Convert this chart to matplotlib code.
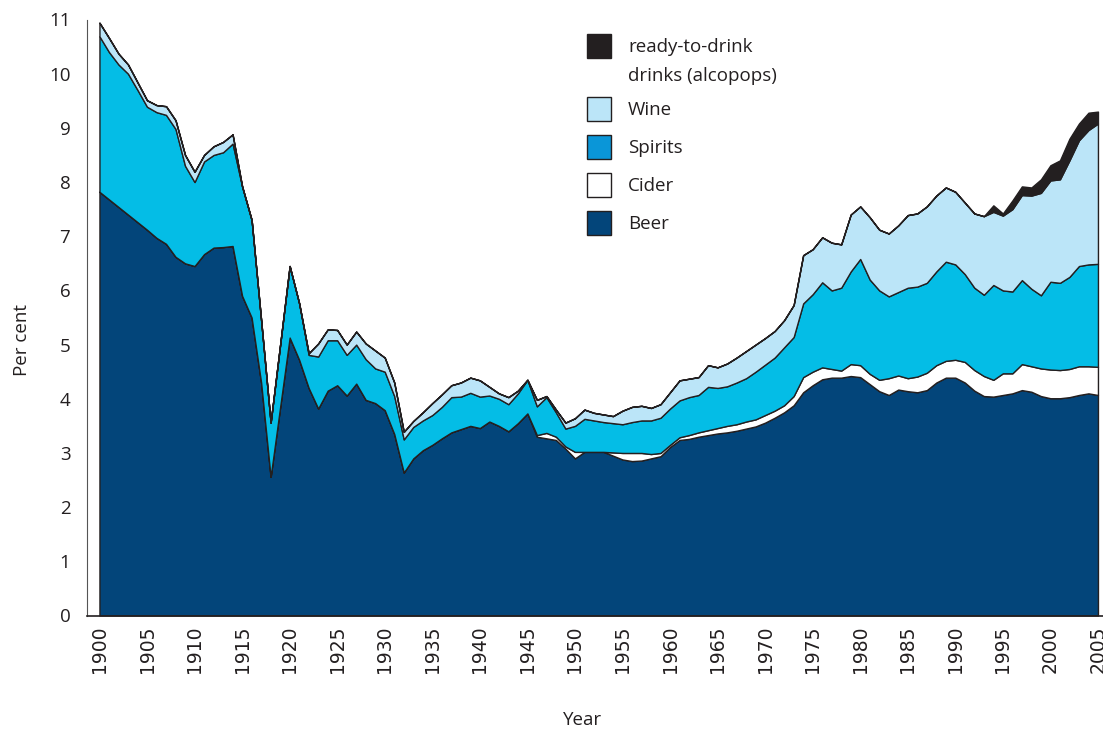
import matplotlib
matplotlib.use("Agg")
import matplotlib.pyplot as plt
from matplotlib.patches import Rectangle

plt.rcParams["font.family"] = ["Open Sans", "DejaVu Sans"]

# ── Data (per cent, stacked components), 1900-2005 ──────────────────────────
years = list(range(1900, 2006))

beer = [
    7.82, 7.68, 7.54, 7.40, 7.26, 7.12, 6.97, 6.86, 6.62, 6.50,   # 1900s
    6.45, 6.67, 6.79, 6.80, 6.82, 5.90, 5.50, 4.30, 2.56, 3.85,   # 1910s
    5.13, 4.72, 4.20, 3.82, 4.15, 4.25, 4.06, 4.28, 3.98, 3.92,   # 1920s
    3.79, 3.35, 2.64, 2.90, 3.05, 3.15, 3.27, 3.38, 3.44, 3.50,   # 1930s
    3.46, 3.58, 3.50, 3.40, 3.55, 3.73, 3.30, 3.27, 3.24, 3.08,   # 1940s
    2.90, 3.02, 3.02, 3.02, 2.95, 2.88, 2.85, 2.86, 2.90, 2.94,   # 1950s
    3.11, 3.24, 3.26, 3.30, 3.33, 3.36, 3.38, 3.41, 3.45, 3.49,   # 1960s
    3.56, 3.65, 3.75, 3.88, 4.12, 4.25, 4.36, 4.39, 4.39, 4.42,   # 1970s
    4.40, 4.27, 4.14, 4.07, 4.17, 4.14, 4.12, 4.16, 4.30, 4.39,   # 1980s
    4.39, 4.30, 4.15, 4.05, 4.04, 4.07, 4.10, 4.16, 4.13, 4.05,   # 1990s
    4.01, 4.01, 4.03, 4.07, 4.10, 4.07,                           # 2000s
]

cider = [
    0, 0, 0, 0, 0, 0, 0, 0, 0, 0,
    0, 0, 0, 0, 0, 0, 0, 0, 0, 0,
    0, 0, 0, 0, 0, 0, 0, 0, 0, 0,
    0, 0, 0, 0, 0, 0, 0, 0, 0, 0,
    0, 0, 0, 0, 0, 0, 0.03, 0.10, 0.06, 0.04,
    0.12, 0, 0, 0, 0.06, 0.12, 0.15, 0.14, 0.08, 0.06,
    0.04, 0.05, 0.07, 0.08, 0.09, 0.10, 0.12, 0.12, 0.13, 0.13,
    0.14, 0.13, 0.13, 0.17, 0.28, 0.25, 0.22, 0.16, 0.13, 0.22,
    0.22, 0.19, 0.21, 0.31, 0.26, 0.24, 0.29, 0.32, 0.32, 0.31,
    0.33, 0.38, 0.38, 0.37, 0.31, 0.40, 0.37, 0.48, 0.47, 0.51,
    0.53, 0.52, 0.52, 0.53, 0.50, 0.52,
]

spirits = [
    2.87, 2.72, 2.63, 2.60, 2.44, 2.27, 2.32, 2.38, 2.36, 1.80,
    1.55, 1.71, 1.71, 1.75, 1.89, 2.02, 1.80, 1.15, 1.00, 1.15,
    1.32, 1.04, 0.61, 0.96, 0.93, 0.83, 0.75, 0.72, 0.75, 0.64,
    0.71, 0.70, 0.61, 0.58, 0.55, 0.55, 0.58, 0.65, 0.60, 0.61,
    0.58, 0.48, 0.50, 0.50, 0.55, 0.62, 0.53, 0.66, 0.45, 0.33,
    0.48, 0.61, 0.58, 0.55, 0.54, 0.53, 0.57, 0.60, 0.62, 0.65,
    0.67, 0.68, 0.70, 0.69, 0.80, 0.74, 0.73, 0.77, 0.80, 0.88,
    0.93, 0.98, 1.07, 1.09, 1.36, 1.43, 1.57, 1.45, 1.53, 1.71,
    1.96, 1.74, 1.65, 1.51, 1.54, 1.67, 1.66, 1.66, 1.73, 1.83,
    1.76, 1.62, 1.52, 1.50, 1.75, 1.53, 1.51, 1.55, 1.43, 1.35,
    1.62, 1.61, 1.70, 1.85, 1.88, 1.90,
]

wine = [
    0.25, 0.26, 0.20, 0.17, 0.14, 0.12, 0.13, 0.16, 0.16, 0.20,
    0.19, 0.12, 0.16, 0.19, 0.17, 0, 0, 0, 0, 0,
    0, 0, 0.03, 0.24, 0.20, 0.19, 0.19, 0.24, 0.29, 0.33,
    0.26, 0.25, 0.14, 0.11, 0.15, 0.22, 0.23, 0.22, 0.26, 0.28,
    0.30, 0.16, 0.10, 0.13, 0.05, 0, 0.12, 0.02, 0.05, 0.11,
    0.14, 0.17, 0.14, 0.14, 0.13, 0.25, 0.28, 0.27, 0.23, 0.25,
    0.30, 0.37, 0.34, 0.33, 0.40, 0.38, 0.42, 0.46, 0.50, 0.50,
    0.49, 0.49, 0.50, 0.59, 0.89, 0.83, 0.83, 0.88, 0.80, 1.05,
    0.97, 1.15, 1.12, 1.16, 1.23, 1.34, 1.35, 1.41, 1.40, 1.37,
    1.34, 1.32, 1.37, 1.45, 1.35, 1.38, 1.52, 1.57, 1.72, 1.89,
    1.87, 1.91, 2.15, 2.32, 2.48, 2.59,
]

rtd = [
    0, 0, 0, 0, 0, 0, 0, 0, 0, 0,
    0, 0, 0, 0, 0, 0, 0, 0, 0, 0,
    0, 0, 0, 0, 0, 0, 0, 0, 0, 0,
    0, 0, 0, 0, 0, 0, 0, 0, 0, 0,
    0, 0, 0, 0, 0, 0, 0, 0, 0, 0,
    0, 0, 0, 0, 0, 0, 0, 0, 0, 0,
    0, 0, 0, 0, 0, 0, 0, 0, 0, 0,
    0, 0, 0, 0, 0, 0, 0, 0, 0, 0,
    0, 0, 0, 0, 0, 0, 0, 0, 0, 0,
    0, 0, 0, 0, 0.12, 0.04, 0.16, 0.16, 0.15, 0.25,
    0.28, 0.35, 0.40, 0.31, 0.32, 0.22,
]

legend_labels = ["ready-to-drink\ndrinks (alcopops)", "Wine", "Spirits", "Cider", "Beer"]
x_ticks = list(range(1900, 2006, 5))
y_ticks = list(range(0, 12))

# ── Style ────────────────────────────────────────────────────────────────────
EDGE = "#231f20"
C_BEER = "#03457a"
C_CIDER = "#ffffff"
C_SPIRITS = "#04bde6"
C_WINE = "#bbe5f8"
C_RTD = "#231f20"
C_SPIRITS_KEY = "#0a96d8"
legend_colors = [C_RTD, C_WINE, C_SPIRITS_KEY, C_CIDER, C_BEER]

W, H = 1103, 731
fig = plt.figure(figsize=(W / 100, H / 100), dpi=100)
ax = fig.add_axes([87 / W, 1 - 615.5 / H, (1103 - 87) / W, (615.5 - 19.5) / H])

ax.stackplot(years, beer, cider, spirits, wine, rtd,
             colors=[C_BEER, C_CIDER, C_SPIRITS, C_WINE, C_RTD],
             edgecolor=EDGE, linewidth=1.0)

ax.set_xlim(1898.69, 2005.53)
ax.set_ylim(0, 11)
ax.set_xticks(x_ticks)
ax.set_xticklabels([str(y) for y in x_ticks], rotation=90,
                   fontfamily="DejaVu Sans", fontsize=13.5, color=EDGE)
ax.set_yticks(y_ticks)
ax.set_yticklabels([str(v) for v in y_ticks], fontsize=13.5, color=EDGE)
ax.tick_params(axis="x", length=0, pad=7)
ax.tick_params(axis="y", length=0, pad=12)

for side in ("top", "right"):
    ax.spines[side].set_visible(False)
ax.spines["bottom"].set_color(EDGE)
ax.spines["bottom"].set_linewidth(1.2)
ax.spines["left"].set_color("#555555")
ax.spines["left"].set_linewidth(0.8)

fig.text(22 / W, 1 - 340 / H, "Per cent", rotation=90, ha="center", va="center",
         fontsize=13.5, color=EDGE)
fig.text(583 / W, 1 - 720 / H, "Year", ha="center", va="center",
         fontsize=13.5, color=EDGE)

# ── Legend (drawn by hand so the swatch sits on the first text line) ───────
sw_x, sw_size, step = 587, 24, 38.5
sw_top = [34, 97, 135, 173, 211]
for top, label, color in zip(sw_top, legend_labels, legend_colors):
    fig.add_artist(Rectangle((sw_x / W, 1 - (top + sw_size) / H), sw_size / W, sw_size / H,
                             transform=fig.transFigure, facecolor=color,
                             edgecolor=EDGE, linewidth=1.0))
    lines = label.split("\n")
    for i, line in enumerate(lines):
        fig.text(628 / W, 1 - (top + 13 + i * 29) / H, line, ha="left", va="center",
                 fontsize=13.5, color=EDGE)

fig.savefig("out.png", dpi=100)
